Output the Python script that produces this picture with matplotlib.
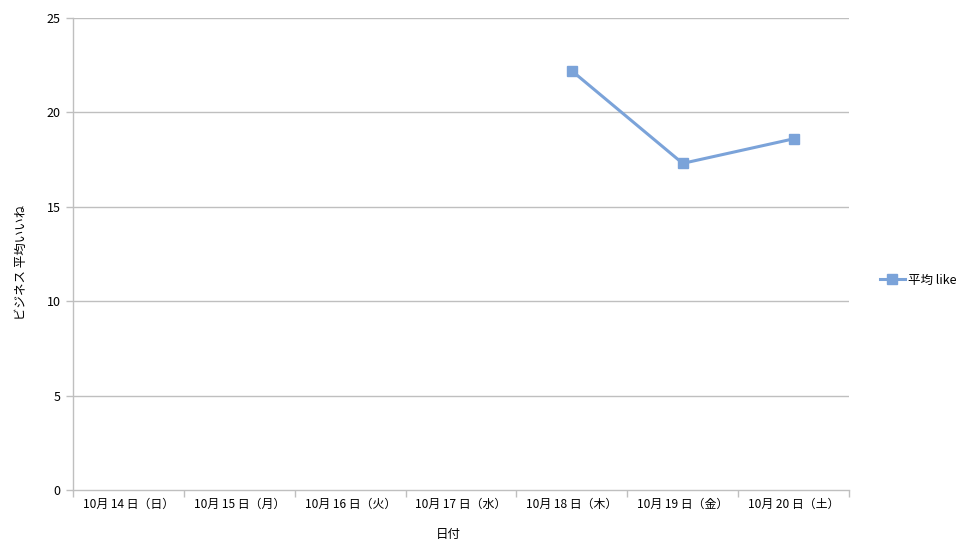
import matplotlib
matplotlib.use("Agg")
import matplotlib.pyplot as plt
import numpy as np

plt.rcParams['font.family'] = ['Noto Sans CJK JP', 'DejaVu Sans']

# data
dates = ["10月 14 日（日）", "10月 15 日（月）", "10月 16 日（火）", "10月 17 日（水）",
         "10月 18 日（木）", "10月 19 日（金）", "10月 20 日（土）"]
avg_like = [np.nan, np.nan, np.nan, np.nan, 22.2, 17.3, 18.6]
y_ticks = [0, 5, 10, 15, 20, 25]

fig = plt.figure(figsize=(9.58, 5.53), dpi=100)
ax = fig.add_axes([73/958, 63/553, 776/958, 472/553])

grid_col = '#BFBFBF'
line_col = '#7BA3D9'

x = np.arange(len(dates))
ax.plot(x, avg_like, color=line_col, linewidth=2.2, marker='s', markersize=7.5,
        markeredgecolor=line_col, label='平均 like', zorder=3)

ax.set_xlim(-0.5, len(dates) - 0.5)
ax.set_ylim(0, 25)
ax.set_yticks(y_ticks)
for t in y_ticks[1:]:
    ax.axhline(t, color=grid_col, linewidth=1, zorder=1)

# category boundaries as major ticks, labels at centres
ax.set_xticks(np.arange(-0.5, len(dates)), minor=False)
ax.set_xticklabels([])
ax.set_xticks(x, minor=True)
ax.set_xticklabels(dates, minor=True, fontsize=8.6)
ax.tick_params(axis='x', which='major', length=5, color=grid_col, width=1)
ax.tick_params(axis='x', which='minor', length=0, pad=6)
ax.tick_params(axis='y', length=5, color=grid_col, width=1, labelsize=9, pad=4)

for s in ['top', 'right']:
    ax.spines[s].set_visible(False)
for s in ['left', 'bottom']:
    ax.spines[s].set_color(grid_col)
    ax.spines[s].set_linewidth(1)

ax.set_xlabel('日付', fontsize=9)
ax.xaxis.set_label_coords((448 - 73) / 776, -(528 - 490) / 472)
ax.set_ylabel('ビジネス 平均いいね', fontsize=9)
ax.yaxis.set_label_coords(-(73 - 28) / 776, (490 - 262) / 472)

ax.legend(loc='center left', bbox_to_anchor=(1.025, (490 - 280) / 472), frameon=False,
          fontsize=9, handlelength=2.0, handletextpad=0.3)

fig.savefig('out.png', dpi=100)
